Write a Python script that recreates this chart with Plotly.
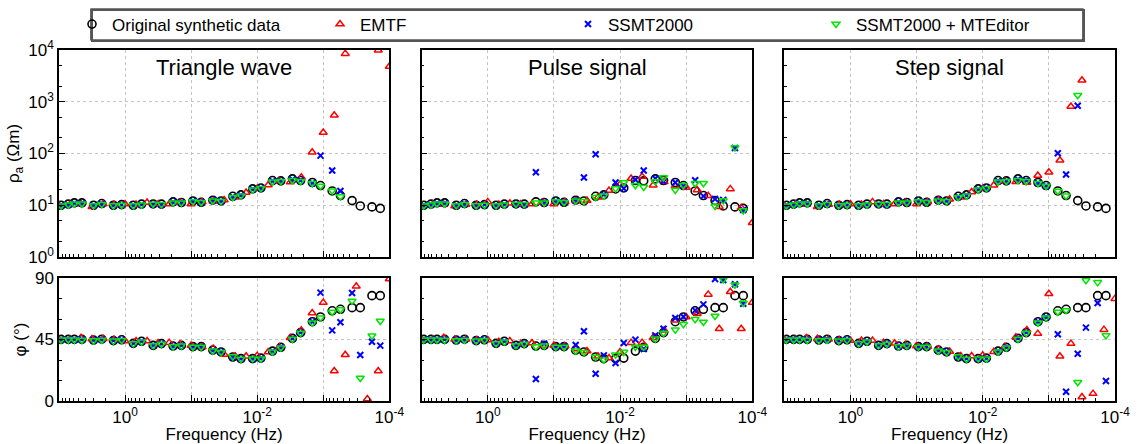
import plotly.graph_objects as go

# ---------------- data ----------------
freq_orig = [9.33, 7.23, 5.86, 4.5, 3.0, 2.25, 1.5, 1.125, 0.75, 0.5625, 0.375, 0.28125,
             0.1875, 0.140625, 0.09375, 0.0703, 0.0469, 0.0352, 0.0234, 0.0176, 0.0117,
             0.00879, 0.00586, 0.00439, 0.00293, 0.0022, 0.00146, 0.0011, 0.000732,
             0.000549, 0.000366, 0.000275, 0.000183, 0.000137]
freq_emtf = [10.0, 6.81, 4.64, 3.16, 2.15, 1.47, 1.0, 0.681, 0.464, 0.316, 0.215, 0.147,
             0.1, 0.0681, 0.0464, 0.0316, 0.0215, 0.0147, 0.01, 0.00681, 0.00464, 0.00316,
             0.00215, 0.00147, 0.001, 0.000681, 0.000464, 0.000316, 0.000215, 0.000147, 0.0001]

rho_orig = [10.0, 10.5, 11.1, 11.1, 10.0, 10.8, 10.0, 10.3, 10.0, 10.5, 10.6, 10.5, 11.6, 11.3,
            12.1, 11.4, 12.5, 12.1, 14.9, 15.9, 20.7, 21.6, 30.0, 29.6, 32.4, 30.0, 27.5, 24.0,
            18.9, 15.4, 12.3, 9.7, 9.3, 8.7]
phi_orig = [45.1, 45.1, 45.1, 45.1, 44.6, 45.2, 44.2, 44.8, 42.2, 43.7, 40.7, 42.0, 40.2, 40.7,
            39.8, 39.8, 37.2, 35.9, 32.2, 31.0, 31.0, 31.4, 36.5, 39.3, 45.8, 50.0, 58.0, 61.5,
            66.0, 67.1, 68.3, 68.3, 77.1, 77.1]

# Triangle wave
tri_rho_emtf = [10.0, 10.3, 10.6, 9.4, 10.6, 10.3, 10.6, 10.3, 11.3, 10.6, 10.6, 11.3, 10.6, 11.6,
                11.9, 12.7, 14.3, 17.6, 21.0, 24.7, 29.0, 28.0, 34.8, 106, 254, 550, 8500, None,
                None, 9900, 4800]
tri_phi_emtf = [45.1, 45.1, 46.3, 45.4, 45.6, 45.1, 43.9, 43.9, 43.9, 42.4, 42.7, 41.5, 40.7, 39.5,
                38.5, 34.1, 32.7, 32.7, 33.2, 35.9, 39.5, 46.3, 51.7, 64.4, 72.0, 22.0, 33.9, 83.9,
                1.5, 22.0, 89.3]
tri_rho_ssmt = [10.0, 10.3, 10.9, 10.9, 10.0, 10.6, 10.0, 10.3, 10.0, 10.3, 10.6, 10.3, 11.4, 11.3,
                12.1, 11.6, 12.5, 12.1, 14.6, 15.6, 20.4, 21.6, 29.5, 29.6, 31.5, 30.0, 27.0, 91,
                46.8, 18.9, None, None, None, None]
tri_phi_ssmt = [45.1, 45.1, 45.1, 45.1, 44.6, 45.0, 44.4, 44.8, 42.2, 43.7, 41.0, 42.0, 40.0, 40.7,
                39.6, 39.8, 37.0, 36.0, 32.0, 31.0, 30.8, 31.2, 36.5, 39.3, 45.8, 50.2, 58.0, 79.3,
                51.7, 57.6, 79.0, 33.7, 43.4, 40.5]
tri_rho_edit = [9.8, 10.2, 10.7, 10.7, 9.9, 10.4, 9.9, 10.1, 9.9, 10.2, 10.6, 10.4, 11.2, 11.2,
                11.8, 11.4, 12.2, 11.9, 14.3, 15.2, 20.0, 21.3, 28.5, 29.0, 30.5, 29.0, 26.5, 23.5,
                19.0, 14.7, None, None, None, None]
tri_phi_edit = [44.8, 44.8, 44.8, 44.6, 44.3, 44.6, 44.0, 44.4, 42.0, 43.4, 40.7, 41.7, 39.8, 40.5,
                39.5, 39.5, 36.8, 35.7, 32.5, 30.8, 31.0, 30.9, 36.0, 39.0, 45.3, 49.8, 57.2, 61.0,
                65.1, 67.0, 73.2, 16.8, 47.8, 58.5]

# Pulse signal
pul_rho_emtf = [10.0, 10.3, 10.3, 9.7, 10.3, 10.3, 11.6, 10.3, 10.9, 10.6, 10.6, 11.3, 10.6, 11.6,
                12.1, 12.3, 14.3, 19.2, 25.5, 32.8, 35.8, 24.4, 28.3, 23.7, 22.0, 19.8, 15.2, 9.4,
                20.7, 9.0, 4.6]
pul_phi_emtf = [45.1, 45.1, 46.3, 45.1, 45.1, 44.6, 44.6, 43.4, 43.9, 42.0, 42.4, 40.7, 40.7, 40.2,
                38.0, 36.6, 32.7, 31.5, 35.9, 42.7, 42.7, 46.3, 51.7, 59.0, 61.5, 63.9, 78.0, 52.9,
                80.0, 52.9, 72.0]
pul_rho_ssmt = [10.0, 10.3, 10.9, 10.9, 10.0, 10.6, 10.0, 10.3, 10.0, 10.3, 10.6, 10.3, 43.5, 11.3,
                12.1, 11.6, 12.5, 34.3, 97.0, 16.1, 27.5, 21.0, 31.0, 46.9, 32.8, 29.1, 27.5, 23.7,
                30.5, 15.0, 13.2, 12.7, 128, 8.1]
pul_phi_ssmt = [45.1, 45.1, 45.1, 45.1, 44.6, 45.0, 44.4, 44.8, 42.2, 43.7, 41.0, 42.0, 16.1, 42.0,
                39.6, 40.2, 41.0, 51.0, 20.0, 33.4, 27.8, 42.4, 44.9, 38.0, 48.0, 52.9, 60.7, 61.7,
                66.3, 70.7, 89.3, 88.5, 85.4, 71.2]
pul_rho_edit = [9.8, 10.2, 10.7, 10.7, 9.9, 10.4, 9.9, 10.1, 9.9, 10.2, 10.6, 10.4, 11.2, 11.2,
                11.8, 11.4, 12.2, 11.9, 14.3, 15.2, 21.0, 27.5, 24.4, 22.6, 28.7, 34.3, 19.8, 24.4,
                26.6, 26.6, 9.7, 12.3, 130, 7.9]
pul_phi_edit = [44.8, 44.8, 44.8, 44.6, 44.3, 44.6, 44.0, 44.4, 42.0, 43.4, 40.7, 41.7, 39.8, 40.5,
                39.5, 39.5, 36.8, 35.7, 32.2, 30.2, 33.9, 35.9, 39.5, 39.5, 45.6, 49.8, 52.2, 56.1,
                59.8, 57.8, 62.2, 88.8, 85.1, 71.7]

# Step signal
stp_rho_emtf = [10.0, 10.3, 10.3, 9.4, 10.3, 10.3, 10.6, 10.3, 11.6, 10.6, 10.6, 11.3, 10.6, 11.6,
                12.7, 13.0, 14.3, 18.1, 21.0, 24.4, 29.0, 28.3, 27.5, 37.5, 43.5, 74, 810, 2600,
                None, None, None]
stp_phi_emtf = [45.1, 45.1, 46.1, 45.6, 45.1, 44.6, 44.2, 44.2, 44.2, 42.7, 42.2, 41.0, 40.2, 39.8,
                37.8, 36.3, 32.9, 32.9, 33.4, 36.1, 39.8, 46.6, 52.0, 49.3, 78.5, 32.7, 42.0, 2.9,
                5.4, 52.2, 74.9]
stp_rho_ssmt = [10.0, 10.3, 10.9, 10.9, 10.0, 10.6, 10.0, 10.3, 10.0, 10.3, 10.6, 10.3, 11.4, 11.3,
                12.1, 11.6, 12.5, 12.1, 14.6, 15.6, 20.4, 21.6, 29.5, 29.6, 31.5, 30.0, 27.0, 23.7,
                101, 39.2, 837, None, None, None]
stp_phi_ssmt = [45.1, 45.1, 45.1, 45.1, 44.6, 45.0, 44.4, 44.8, 42.2, 43.7, 41.0, 42.0, 40.0, 40.7,
                39.6, 39.8, 37.0, 36.0, 32.0, 31.0, 30.8, 31.2, 36.5, 39.3, 45.8, 50.2, 58.0, 61.5,
                48.8, 6.8, 34.6, 53.7, 71.7, 14.6]
stp_rho_edit = [9.8, 10.2, 10.7, 10.7, 9.9, 10.4, 9.9, 10.1, 9.9, 10.2, 10.6, 10.4, 11.2, 11.2,
                11.8, 11.4, 12.2, 11.9, 14.3, 15.2, 20.0, 21.3, 28.5, 29.0, 30.5, 29.0, 26.5, 23.5,
                18.9, 15.2, 1340, None, None, None]
stp_phi_edit = [44.8, 44.8, 44.8, 44.6, 44.3, 44.6, 44.0, 44.4, 42.0, 43.4, 40.7, 41.7, 39.8, 40.5,
                39.5, 39.5, 36.8, 35.7, 32.5, 30.8, 31.0, 30.9, 36.0, 39.0, 45.3, 49.8, 57.2, 61.0,
                65.1, 66.3, 13.7, 88.3, 86.8, 48.0]

panel_titles = ["Triangle wave", "Pulse signal", "Step signal"]
series_names = ["Original synthetic data", "EMTF", "SSMT2000", "SSMT2000 + MTEditor"]

panels = [
    (tri_rho_emtf, tri_phi_emtf, tri_rho_ssmt, tri_phi_ssmt, tri_rho_edit, tri_phi_edit),
    (pul_rho_emtf, pul_phi_emtf, pul_rho_ssmt, pul_phi_ssmt, pul_rho_edit, pul_phi_edit),
    (stp_rho_emtf, stp_phi_emtf, stp_rho_ssmt, stp_phi_ssmt, stp_rho_edit, stp_phi_edit),
]

# ---------------- styling ----------------
FONT = "Liberation Sans, Arial, sans-serif"
W, H = 1138, 444
ml, mr, mt, mb = 59, 23, 50, 43
pw = W - ml - mr
ph = H - mt - mb


def clamp(v):
    return max(0.0, min(1.0, v))


def px_x(a, b):
    return [clamp((a - ml) / pw), clamp((b - ml) / pw)]


def px_y(top, bot):
    return [clamp((H - mb - bot) / ph), clamp((H - mb - top) / ph)]


def paper_x(px):
    return (px - ml) / pw


def paper_y(py):
    return (H - mb - py) / ph


xdoms = [px_x(59, 389.3), px_x(421.7, 752.3), px_x(784.3, 1115)]
ydom_top = px_y(50, 257)
ydom_bot = px_y(278, 401)

styles = [
    dict(symbol="circle-open", size=8, color="black", line=dict(width=1.6, color="black")),
    dict(symbol="triangle-up-open", size=7, color="#ff0000", line=dict(width=1.5, color="#ff0000")),
    dict(symbol="x-thin-open", size=6, color="#0000ff", line=dict(width=2, color="#0000ff")),
    dict(symbol="triangle-down-open", size=7, color="#00e600", line=dict(width=1.5, color="#00e600")),
]

fig = go.Figure()

decades = [10, 1, 0.1, 0.01, 0.001, 0.0001]
xminor = [m * d for d in [1, 0.1, 0.01, 0.001, 0.0001] for m in range(2, 10)]
yminor = [m * d for d in [1, 10, 100, 1000] for m in (2, 5)]

for p in range(3):
    rho_e, phi_e, rho_s, phi_s, rho_m, phi_m = panels[p]
    xt = "x" if p == 0 else f"x{2*p+1}"
    xb = f"x{2*p+2}"
    yt = "y" if p == 0 else f"y{2*p+1}"
    yb = f"y{2*p+2}"
    top_sets = [(freq_orig, rho_orig), (freq_emtf, rho_e), (freq_orig, rho_s), (freq_orig, rho_m)]
    bot_sets = [(freq_orig, phi_orig), (freq_emtf, phi_e), (freq_orig, phi_s), (freq_orig, phi_m)]
    for i in range(4):
        fig.add_trace(go.Scatter(x=top_sets[i][0], y=top_sets[i][1], mode="markers",
                                 marker=styles[i], name=series_names[i],
                                 showlegend=(p == 0), legendgroup=series_names[i],
                                 xaxis=xt, yaxis=yt))
    for i in range(4):
        fig.add_trace(go.Scatter(x=bot_sets[i][0], y=bot_sets[i][1], mode="markers",
                                 marker=styles[i], name=series_names[i], showlegend=False,
                                 legendgroup=series_names[i], xaxis=xb, yaxis=yb))

TICKFONT = dict(family=FONT, size=17, color="black")
TITLEFONT = dict(family=FONT, size=17, color="black")

axis_common = dict(showline=True, linecolor="black", linewidth=1.5, mirror=True,
                   ticks="inside", tickcolor="black", tickwidth=1, zeroline=False,
                   showgrid=True, gridcolor="#c4c4c4", griddash="dot", gridwidth=1,
                   tickfont=TICKFONT)

layout = {}
for p in range(3):
    n_t = 2 * p + 1
    n_b = 2 * p + 2
    kt = "xaxis" if n_t == 1 else f"xaxis{n_t}"
    kb = f"xaxis{n_b}"
    kyt = "yaxis" if n_t == 1 else f"yaxis{n_t}"
    kyb = f"yaxis{n_b}"
    ytname = "y" if n_t == 1 else f"y{n_t}"
    layout[kt] = dict(axis_common, type="log", range=[1, -4], domain=xdoms[p], anchor=ytname,
                      tickvals=decades, ticktext=[""] * 6, ticklen=6,
                      minor=dict(tickvals=xminor, ticks="inside", ticklen=3, tickcolor="black",
                                 showgrid=False))
    layout[kb] = dict(axis_common, type="log", range=[1, -4], domain=xdoms[p], anchor=f"y{n_b}",
                      tickvals=decades,
                      ticktext=["", "10<sup>0</sup>", "", "10<sup>-2</sup>", "", "10<sup>-4</sup>"],
                      ticklen=6,
                      minor=dict(tickvals=xminor, ticks="inside", ticklen=3, tickcolor="black",
                                 showgrid=False),
                      title=dict(text="Frequency (Hz)", font=TITLEFONT, standoff=1))
    layout[kyt] = dict(axis_common, type="log", range=[0, 4], domain=ydom_top,
                       anchor=("x" if n_t == 1 else f"x{n_t}"),
                       tickvals=[1, 10, 100, 1000, 10000],
                       ticktext=(["10<sup>0</sup>", "10<sup>1</sup>", "10<sup>2</sup>",
                                  "10<sup>3</sup>", "10<sup>4</sup>"] if p == 0 else [""] * 5),
                       ticklen=6,
                       minor=dict(tickvals=yminor, ticks="inside", ticklen=3, tickcolor="black",
                                  showgrid=False))
    layout[kyb] = dict(axis_common, range=[0, 90], domain=ydom_bot, anchor=f"x{n_b}",
                       tickvals=[0, 45, 90],
                       ticktext=(["0", "45", "90"] if p == 0 else ["", "", ""]),
                       ticklen=6,
                       minor=dict(tickvals=[15, 30, 60, 75], ticks="inside", ticklen=3,
                                  tickcolor="black", showgrid=False))
    if p == 0:
        layout[kyt]["title"] = dict(text="ρ<sub>a</sub> (Ωm)", font=TITLEFONT, standoff=4)
        layout[kyb]["title"] = dict(text="φ (°)", font=TITLEFONT, standoff=4)

annotations = []
for p in range(3):
    annotations.append(dict(text=panel_titles[p], xref=("x domain" if p == 0 else f"x{2*p+1} domain"),
                            yref=("y domain" if p == 0 else f"y{2*p+1} domain"),
                            x=0.5, y=0.985, xanchor="center", yanchor="top", showarrow=False,
                            font=dict(family=FONT, size=22, color="black")))

# legend frame (drawn as a shape behind the library legend)
shapes = [
    dict(type="rect", xref="paper", yref="paper",
         x0=paper_x(92), x1=paper_x(1084), y0=paper_y(41), y1=paper_y(10),
         line=dict(color="#555555", width=2), fillcolor="rgba(0,0,0,0)", layer="above"),
    dict(type="rect", xref="paper", yref="paper",
         x0=paper_x(91), x1=paper_x(1083), y0=paper_y(40), y1=paper_y(9),
         line=dict(color="black", width=1.2), fillcolor="white", layer="below"),
]

fig.update_layout(
    width=W, height=H,
    margin=dict(l=ml, r=mr, t=mt, b=mb, autoexpand=False),
    paper_bgcolor="white", plot_bgcolor="white",
    font=dict(family=FONT, size=16, color="black"),
    showlegend=True,
    legend=dict(orientation="h", x=paper_x(72), y=paper_y(24.5),
                xanchor="left", yanchor="middle", borderwidth=0,
                bgcolor="rgba(0,0,0,0)", font=dict(family=FONT, size=17, color="black"),
                entrywidth=203, entrywidthmode="pixels", itemwidth=30, tracegroupgap=0),
    annotations=annotations,
    shapes=shapes,
    **layout,
)

fig.write_html("out.html")
